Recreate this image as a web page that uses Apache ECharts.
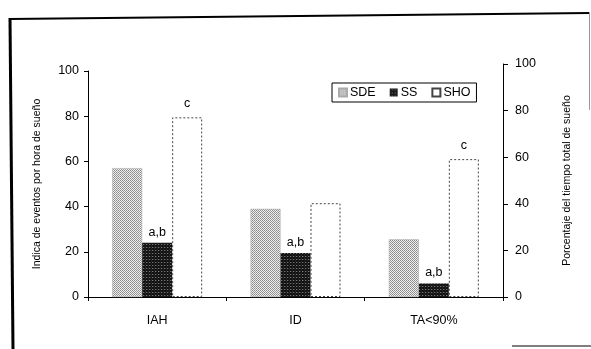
<!DOCTYPE html>
<html>
<head>
<meta charset="utf-8">
<script src="https://cdn.jsdelivr.net/npm/echarts@6/dist/echarts.min.js"></script>
<style>html,body{margin:0;padding:0;background:#fff;}#c{width:591px;height:349px;}</style>
</head>
<body>
<div id="c"></div>
<script>
const categories = ['IAH', 'ID', 'TA<90%'];
const sdeValues = [57, 39, 25.5];
const ssValues = [24, 19.5, 6];
const shoValues = [79.5, 41.5, 61];
const ssNotes = ['a,b', 'a,b', 'a,b'];
const shoNotes = ['c', '', 'c'];
const leftTicks = [0, 20, 40, 60, 80, 100];
const rightTicks = [0, 20, 40, 60, 80, 100];

function pattern(cells, size) {
  const cv = document.createElement('canvas');
  cv.width = size; cv.height = size;
  const ctx = cv.getContext('2d');
  for (let y = 0; y < size; y++) for (let x = 0; x < size; x++) {
    ctx.fillStyle = cells[y][x];
    ctx.fillRect(x, y, 1, 1);
  }
  return { image: cv, repeat: 'repeat' };
}
const sdeFill = pattern([['#8a8a8a', '#eeeeee'], ['#eeeeee', '#9a9a9a']], 2);
const ssFill = pattern([['#111', '#222', '#111'], ['#333', '#111', '#777'], ['#111', '#222', '#111']], 3);

const chart = echarts.init(document.getElementById('c'), null, { renderer: 'canvas' });
const font = 'Liberation Sans, Arial, sans-serif';
const axisLine = { show: true, lineStyle: { color: '#000', width: 1 } };

chart.setOption({
  animation: false,
  backgroundColor: '#fff',
  textStyle: { fontFamily: font },
  grid: [
    { left: 88, right: 88, top: 71, bottom: 52 },
    { left: 88, right: 88, top: 64, bottom: 52 }
  ],
  legend: {
    left: 332, top: 83,
    padding: [3, 6, 3, 6],
    borderColor: '#000', borderWidth: 1,
    itemWidth: 8, itemHeight: 8, itemGap: 14,
    icon: 'rect',
    textStyle: { fontSize: 12.5, color: '#000', fontFamily: font, padding: [0, 0, 0, -2] },
    data: ['SDE', 'SS', 'SHO']
  },
  xAxis: [
    {
      type: 'category', gridIndex: 0, data: categories,
      axisLine: axisLine,
      axisTick: { show: true, length: 4, lineStyle: { color: '#000' } },
      axisLabel: { color: '#000', fontSize: 12.5, margin: 17, fontFamily: font },
      splitLine: { show: false }
    },
    { type: 'category', gridIndex: 1, data: categories, show: false }
  ],
  yAxis: [
    {
      type: 'value', gridIndex: 0, min: 0, max: 100, interval: 20,
      axisLine: axisLine,
      axisTick: { show: true, length: 4, lineStyle: { color: '#000' } },
      axisLabel: { color: '#000', fontSize: 12.5, margin: 9, fontFamily: font,
        formatter: v => leftTicks.includes(v) ? String(v) : '' },
      splitLine: { show: false },
      name: 'Indica de eventos por hora de sueño',
      nameLocation: 'middle', nameRotate: 90, nameGap: 45,
      nameTextStyle: { fontSize: 10.5, color: '#000', fontFamily: font }
    },
    {
      type: 'value', gridIndex: 1, position: 'right', min: 0, max: 100, interval: 20,
      axisLine: axisLine,
      axisTick: { show: true, length: 5, lineStyle: { color: '#000' } },
      axisLabel: { color: '#000', fontSize: 12.5, margin: 12, fontFamily: font,
        formatter: v => rightTicks.includes(v) ? String(v) : '' },
      splitLine: { show: false },
      name: 'Porcentaje del tiempo total de sueño',
      nameLocation: 'middle', nameRotate: 90, nameGap: 59,
      nameTextStyle: { fontSize: 10.5, color: '#000', fontFamily: font }
    }
  ],
  series: [
    {
      name: 'SDE', type: 'bar', xAxisIndex: 0, yAxisIndex: 0,
      data: sdeValues, barWidth: 30, barGap: '0%',
      itemStyle: { color: sdeFill, borderColor: '#aaa', borderWidth: 0.5 }
    },
    {
      name: 'SS', type: 'bar', xAxisIndex: 0, yAxisIndex: 0,
      data: ssValues, barWidth: 30, barGap: '0%',
      itemStyle: { color: ssFill },
      label: { show: true, position: 'top', distance: 4, color: '#000', fontSize: 12.5, fontFamily: font,
        formatter: p => ssNotes[p.dataIndex] }
    },
    {
      name: 'SHO', type: 'bar', xAxisIndex: 0, yAxisIndex: 0,
      data: shoValues, barWidth: 30, barGap: '0%',
      itemStyle: { color: '#fff', borderColor: '#444', borderWidth: 1, borderType: [2, 2] },
      label: { show: true, position: 'top', distance: 7, color: '#000', fontSize: 12.5, fontFamily: font,
        formatter: p => shoNotes[p.dataIndex] }
    }
  ],
  graphic: [
    { type: 'line', shape: { x1: 9, y1: 19, x2: 590, y2: 13 }, style: { stroke: '#000', lineWidth: 2 } },
    { type: 'line', shape: { x1: 10, y1: 18, x2: 13, y2: 349 }, style: { stroke: '#000', lineWidth: 3 } },
    { type: 'line', shape: { x1: 589.5, y1: 12, x2: 589.5, y2: 110 }, style: { stroke: '#999', lineWidth: 1 } },
    { type: 'line', shape: { x1: 512, y1: 346, x2: 591, y2: 346 }, style: { stroke: '#555', lineWidth: 1.5 } }
  ]
});
</script>
</body>
</html>
